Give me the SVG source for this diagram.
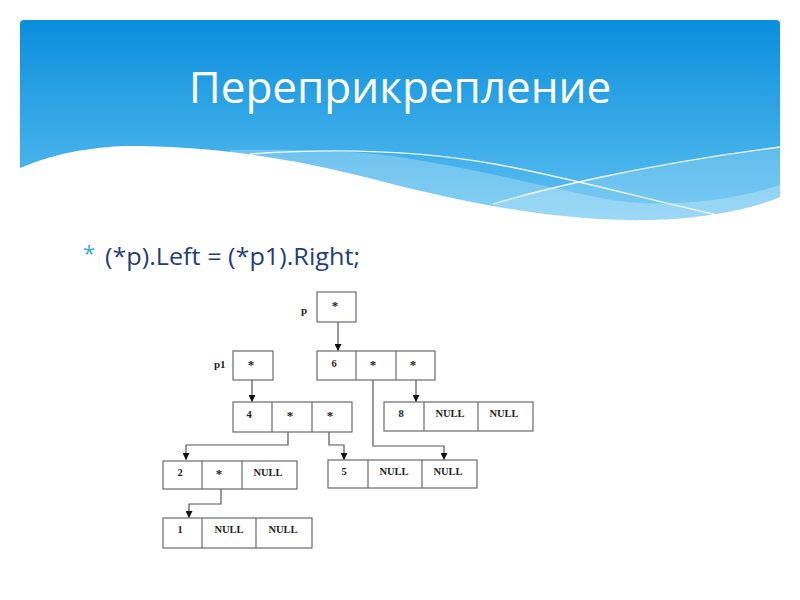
<svg xmlns="http://www.w3.org/2000/svg" width="800" height="600" viewBox="0 0 800 600">
<defs>
<linearGradient id="bg" x1="0" y1="0" x2="0" y2="1">
<stop offset="0" stop-color="#0a8edc"/>
<stop offset="1" stop-color="#62c3f2"/>
</linearGradient>
<marker id="ah" markerWidth="7" markerHeight="7" refX="7" refY="3.5" orient="auto" markerUnits="userSpaceOnUse">
<path d="M0,0 L7,3.5 L0,7 Z" fill="#111"/>
</marker>
<style>
.box{fill:#fff;stroke:#6a6a6a;stroke-width:1.2}
.div{stroke:#6a6a6a;stroke-width:1.2}
.t{font-family:"Liberation Serif",serif;font-weight:bold;font-size:10.5px;fill:#222;text-anchor:middle}
.s{font-size:13px}
.lbl{font-family:"Liberation Serif",serif;font-weight:bold;font-size:11px;fill:#222}
.con{fill:none;stroke:#555;stroke-width:1.2;marker-end:url(#ah)}
</style>
</defs>
<rect width="800" height="600" fill="#fff"/>
<g id="banner">
<path d="M20,24 Q20,20 24,20 L776,20 Q780,20 780,24 L780,230 L20,230 Z" fill="url(#bg)"/>
<path d="M230,150 C300,149 360,151 400,157 C470,168 540,185 600,198 C650,208 720,205 780,185 L780,230 L230,230 Z" fill="#fff" opacity="0.25"/>
<path d="M493,204 C540,190 640,165 780,147 L780,230 L493,230 Z" fill="#fff" opacity="0.18"/>
<path d="M20,168 C60,150 110,145 140,146 C250,148 330,168 400,186 C470,203 560,222 650,220 C700,219 750,210 780,197 L780,240 L20,240 Z" fill="#fff"/>
<path d="M250,154 C350,147 430,152 500,165 S650,200 717,215" fill="none" stroke="#fff" stroke-width="1.3" opacity="0.9"/>
<path d="M493,204 C540,190 640,165 780,147" fill="none" stroke="#fff" stroke-width="1.3" opacity="0.9"/>
<text x="400" y="103" font-family="Open Sans, sans-serif" font-size="44" fill="#fff" text-anchor="middle">Переприкрепление</text>
</g>
<g id="bullet">
<text x="83" y="261" font-family="Open Sans, sans-serif" font-size="22" fill="#3aa8e6">*</text>
<text x="105" y="265" font-family="Open Sans, sans-serif" font-size="23" fill="#1f3e78" textLength="255" lengthAdjust="spacingAndGlyphs">(*p).Left = (*p1).Right;</text>
</g>
<g id="connectors">
<path class="con" d="M338,322 V351"/>
<path class="con" d="M252,380 V402"/>
<path class="con" d="M416,380 V402"/>
<path class="con" d="M373,380 V446 H444 V460"/>
<path class="con" d="M288,432 V445 H186 V460"/>
<path class="con" d="M329,432 V445 H344 V460"/>
<path class="con" d="M221,489 V504 H189 V518"/>
</g>
<g id="node-p">
<text class="lbl" x="301" y="314">p</text>
<rect class="box" x="317" y="292" width="39" height="30"/>
<text class="t s" x="335" y="310">*</text>
</g>
<g id="node-p1">
<text class="lbl" x="214" y="368">p1</text>
<rect class="box" x="233" y="351" width="40" height="29"/>
<text class="t s" x="251" y="369">*</text>
</g>
<g id="node-6">
<rect class="box" x="317" y="351" width="118" height="29"/>
<line class="div" x1="356" y1="351" x2="356" y2="380"/>
<line class="div" x1="396" y1="351" x2="396" y2="380"/>
<text class="t" x="334" y="367">6</text>
<text class="t s" x="373" y="369">*</text>
<text class="t s" x="413" y="369">*</text>
</g>
<g id="node-4">
<rect class="box" x="233" y="402" width="119" height="30"/>
<line class="div" x1="272" y1="402" x2="272" y2="432"/>
<line class="div" x1="312" y1="402" x2="312" y2="432"/>
<text class="t" x="249" y="418">4</text>
<text class="t s" x="290" y="420">*</text>
<text class="t s" x="330" y="420">*</text>
</g>
<g id="node-8">
<rect class="box" x="384" y="402" width="149" height="29"/>
<line class="div" x1="424" y1="402" x2="424" y2="431"/>
<line class="div" x1="478" y1="402" x2="478" y2="431"/>
<text class="t" x="401" y="417">8</text>
<text class="t" x="450" y="417">NULL</text>
<text class="t" x="504" y="417">NULL</text>
</g>
<g id="node-2">
<rect class="box" x="163" y="461" width="134" height="28"/>
<line class="div" x1="202" y1="461" x2="202" y2="489"/>
<line class="div" x1="242" y1="461" x2="242" y2="489"/>
<text class="t" x="180" y="476">2</text>
<text class="t s" x="219" y="478">*</text>
<text class="t" x="268" y="476">NULL</text>
</g>
<g id="node-5">
<rect class="box" x="328" y="460" width="149" height="28"/>
<line class="div" x1="368" y1="460" x2="368" y2="488"/>
<line class="div" x1="422" y1="460" x2="422" y2="488"/>
<text class="t" x="344" y="475">5</text>
<text class="t" x="394" y="475">NULL</text>
<text class="t" x="448" y="475">NULL</text>
</g>
<g id="node-1">
<rect class="box" x="163" y="518" width="149" height="30"/>
<line class="div" x1="202" y1="518" x2="202" y2="548"/>
<line class="div" x1="256" y1="518" x2="256" y2="548"/>
<text class="t" x="180" y="533">1</text>
<text class="t" x="229" y="533">NULL</text>
<text class="t" x="283" y="533">NULL</text>
</g>
</svg>
